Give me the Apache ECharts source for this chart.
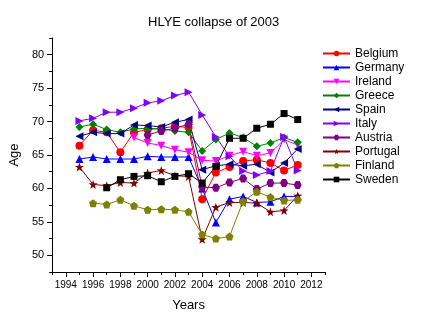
<!DOCTYPE html>
<html><head><meta charset="utf-8">
<script src="https://cdn.jsdelivr.net/npm/echarts@6/dist/echarts.min.js"></script>
<style>html,body{margin:0;padding:0;background:#fff}#c{width:422px;height:326px}</style>
</head><body><div id="c"></div>
<script>
var years = [1995,1996,1997,1998,1999,2000,2001,2002,2003,2004,2005,2006,2007,2008,2009,2010,2011];
var belgium  = [66.4,68.7,68.4,65.4,68.4,68.8,69.0,69.3,69.1,58.4,62.4,63.2,64.1,64.3,63.8,62.7,63.5];
var germany  = [64.4,64.7,64.4,64.4,64.4,64.8,64.7,64.7,64.7,60.0,54.9,58.4,58.8,57.9,58.0,58.8,58.8];
var ireland  = [null,null,null,null,67.6,66.8,66.4,65.8,65.4,64.2,64.1,64.9,65.5,64.9,65.3,67.3,66.5];
var greece   = [69.2,69.6,68.8,68.4,68.9,69.0,68.9,68.6,68.4,65.6,67.3,68.3,67.6,66.3,66.8,67.6,66.9];
var spain    = [67.8,68.4,68.2,68.2,69.5,69.4,69.2,69.9,70.3,62.8,63.4,63.6,63.4,63.6,62.4,63.8,65.9];
var italy    = [70.1,70.5,71.4,71.4,72.0,72.8,73.1,73.9,74.4,71.0,67.7,64.8,62.6,62.0,62.6,67.7,62.7];
var austria  = [null,null,null,null,null,68.0,68.6,69.0,69.6,60.2,60.1,60.9,61.5,59.9,60.8,60.8,60.5];
var portugal = [63.2,60.6,60.4,60.9,60.8,62.3,62.7,61.9,61.8,52.4,57.2,57.9,57.9,57.8,56.5,56.7,58.9];
var finland  = [null,57.8,57.6,58.3,57.4,56.8,56.9,56.8,56.5,53.1,52.5,52.8,58.1,59.5,58.7,58.2,58.3];
var sweden   = [null,null,60.1,61.3,61.8,61.9,61.0,61.8,62.2,60.8,63.3,67.5,67.5,69.0,69.6,71.2,70.3];

var xMajorTicks = [1994,1996,1998,2000,2002,2004,2006,2008,2010,2012];
var xMinorTicks = [1993,1994,1995,1996,1997,1998,1999,2000,2001,2002,2003,2004,2005,2006,2007,2008,2009,2010,2011,2012,2013];
var yMajorTicks = [50,55,60,65,70,75,80];
var yMinorTicks = [47.5,50,52.5,55,57.5,60,62.5,65,67.5,70,72.5,75,77.5,80,82.5];

var FONT = 'Liberation Sans, Arial, sans-serif';
var P = function(d){return 'path://'+d;};
var defs = [
  {name:'Belgium', data:belgium, color:'#FF0000', symbol:'circle', size:8},
  {name:'Germany', data:germany, color:'#0000FF', symbol:P('M5,0 L10,9 L0,9 Z'), size:8},
  {name:'Ireland', data:ireland, color:'#FF00FF', symbol:P('M0,0 L10,0 L5,9 Z'), size:8},
  {name:'Greece', data:greece, color:'#008000', symbol:'diamond', size:8},
  {name:'Spain', data:spain, color:'#000080', symbol:P('M0,5 L9,0 L9,10 Z'), size:8},
  {name:'Italy', data:italy, color:'#8000FF', symbol:P('M0,0 L9,5 L0,10 Z'), size:8},
  {name:'Austria', data:austria, color:'#800080', symbol:P('M2.5,0 L7.5,0 L10,4.33 L7.5,8.66 L2.5,8.66 L0,4.33 Z'), size:8},
  {name:'Portugal', data:portugal, color:'#800000', symbol:P('M5,0 L6.2,3.5 L10,3.6 L7,5.9 L8.1,9.5 L5,7.4 L1.9,9.5 L3,5.9 L0,3.6 L3.8,3.5 Z'), size:9},
  {name:'Finland', data:finland, color:'#808000', symbol:P('M5,0 L10,3.6 L8.1,9.5 L1.9,9.5 L0,3.6 Z'), size:8},
  {name:'Sweden', data:sweden, color:'#000000', symbol:'rect', size:7}
];

var series = defs.map(function(d){
  return {
    name:d.name, type:'line', xAxisIndex:0, yAxisIndex:0,
    data: years.map(function(y,i){return [y, d.data[i]];}),
    symbol:d.symbol, symbolSize:d.size, connectNulls:false,
    itemStyle:{color:d.color}, lineStyle:{color:d.color, width:1},
    emphasis:{disabled:true}, animation:false
  };
});

var plain = function(v){return String(v);};
var chart = echarts.init(document.getElementById('c'), null, {renderer:'canvas'});
chart.setOption({
  animation:false,
  title:{text:'HLYE collapse of 2003', left:143, top:11,
    textStyle:{fontFamily:FONT, fontSize:13, fontWeight:'normal', color:'#000'}},
  grid:{left:40, right:97, top:38, bottom:54, containLabel:false},
  legend:{orient:'vertical', left:317, top:42, itemWidth:27, itemHeight:7, itemGap:1,
    textStyle:{fontFamily:FONT, fontSize:12, color:'#000', lineHeight:13},
    data: defs.map(function(d){return d.name;})},
  xAxis:[
    {type:'value', min:1993, max:2013, position:'bottom',
     name:'Years', nameLocation:'middle', nameGap:27,
     nameTextStyle:{fontFamily:FONT, fontSize:13, color:'#000'},
     axisLine:{lineStyle:{color:'#000', width:1}},
     axisTick:{show:true, customValues:xMinorTicks, length:3, lineStyle:{color:'#000'}},
     axisLabel:{customValues:xMajorTicks, formatter:plain, fontFamily:FONT, fontSize:10, color:'#000', margin:8},
     splitLine:{show:false}},
    {type:'value', min:1993, max:2013, position:'bottom', offset:0,
     axisLine:{show:false},
     axisTick:{show:true, customValues:xMajorTicks, length:5, lineStyle:{color:'#000'}},
     axisLabel:{show:false}, splitLine:{show:false}}
  ],
  yAxis:[
    {type:'value', min:47.5, max:82.5, position:'left',
     name:'Age', nameLocation:'middle', nameGap:29,
     nameTextStyle:{fontFamily:FONT, fontSize:13, color:'#000'},
     axisLine:{show:true, lineStyle:{color:'#000', width:1}},
     axisTick:{show:true, customValues:yMinorTicks, length:3, lineStyle:{color:'#000'}},
     axisLabel:{customValues:yMajorTicks, formatter:plain, fontFamily:FONT, fontSize:11, color:'#000', margin:8},
     splitLine:{show:false}},
    {type:'value', min:47.5, max:82.5, position:'left', offset:0,
     axisLine:{show:false},
     axisTick:{show:true, customValues:yMajorTicks, length:5, lineStyle:{color:'#000'}},
     axisLabel:{show:false}, splitLine:{show:false}}
  ],
  series: series
});
</script></body></html>
